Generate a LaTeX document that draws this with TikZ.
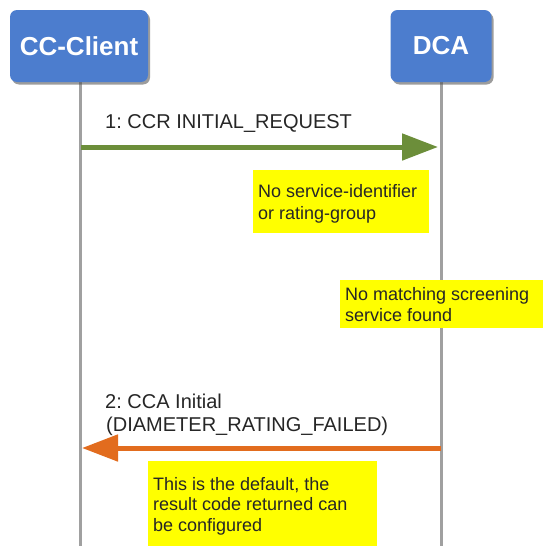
\documentclass[tikz,border=0pt]{standalone}
\usepackage{fontspec}
\setmainfont{Liberation Sans}
\usetikzlibrary{arrows.meta,shadows}
\definecolor{actorblue}{RGB}{76,125,206}
\definecolor{msggreen}{RGB}{108,142,58}
\definecolor{msgorange}{RGB}{226,108,30}
\definecolor{lifegray}{RGB}{160,160,160}
\definecolor{noteyellow}{RGB}{255,255,0}
\frenchspacing
\begin{document}
\begin{tikzpicture}[x=1pt,y=-1pt,
  actor/.style={fill=actorblue, rounded corners=7pt, inner sep=0pt,
    text=white, font=\fontsize{26}{30}\selectfont\bfseries,
    drop shadow={shadow xshift=2pt, shadow yshift=-2.5pt, opacity=0.55, fill=black!70}},
  lifeline/.style={draw=lifegray, line width=3pt},
  notetext/.style={anchor=base west, inner sep=0pt, text=black!85, font=\fontsize{18}{21}\selectfont},
  msgtext/.style={anchor=base west, inner sep=0pt, text=black!85, font=\fontsize{20}{23}\selectfont},
  msg/.style={line width=5pt, -{Triangle[length=36pt,width=26pt]}}
]
\useasboundingbox (0,0) rectangle (543,546);
\fill[white] (0,0) rectangle (543,546);

% lifelines
\coordinate (cbot) at (80,546);
\coordinate (dbot) at (441,546);
\coordinate (ctop) at (80,80);
\coordinate (dtop) at (441,80);
\draw[lifeline] (ctop) -- (cbot);
\draw[lifeline] (dtop) -- (dbot);

% actors
\node[actor, minimum width=138pt, minimum height=72pt] (client) at (79,46) {CC-Client};
\node[actor, minimum width=101pt, minimum height=72pt] (dca) at (441,46) {DCA};

% message 1
\node[msgtext] (m1) at (105,128) {1: CCR INITIAL\_REQUEST};
\coordinate (m1s) at (81,147);
\coordinate (m1e) at (438,147);
\draw[msg, draw=msggreen, fill=msggreen] (m1s) -- (m1e);

% note 1
\fill[noteyellow] (253,170) rectangle (429,233);
\node[notetext] (n1a) at (258,197) {No service-identifier};
\node[notetext] (n1b) at (258,219) {or rating-group};

% note 2
\fill[noteyellow] (340,280) rectangle (543,328);
\node[notetext] (n2a) at (345,300) {No matching screening};
\node[notetext] (n2b) at (345,321) {service found};

% message 2
\node[msgtext] (m2a) at (105,408) {2: CCA Initial};
\node[msgtext] (m2b) at (106,431) {(DIAMETER\_RATING\_FAILED)};
\coordinate (m2s) at (441,448);
\coordinate (m2e) at (82,448);
\draw[msg, draw=msgorange, fill=msgorange] (m2s) -- (m2e);

% note 3
\fill[noteyellow] (148,461) rectangle (377,546);
\node[notetext] (n3a) at (153,490) {This is the default, the};
\node[notetext] (n3b) at (153,510) {result code returned can};
\node[notetext] (n3c) at (153,531) {be configured};
\end{tikzpicture}
\end{document}
